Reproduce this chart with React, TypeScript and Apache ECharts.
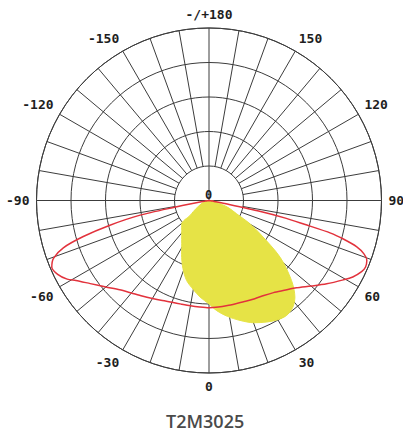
import React, { useEffect, useRef } from "react";
import * as echarts from "echarts";

// Grid: angle label ticks and radial grid lines
const labelAngles = [-180, -150, -120, -90, -60, -30, 0, 30, 60, 90, 120, 150, 180];
const radialLineAngles = [
  -170, -160, -150, -140, -130, -120, -110, -100, -80, -70, -60, -50, -40, -30, -20, -10,
  10, 20, 30, 40, 50, 60, 70, 80, 100, 110, 120, 130, 140, 150, 160, 170,
];
const axisThroughCenter = [-90, 0, 90, 180];
const ringStep = 100;
const ringMax = 500;
const innerRing = 100;
const centerLabel = "0";

// Red curve (C90-C270 plane)
const redAngles = [
  -90, -85, -80.5, -79.5, -79, -78, -76, -74, -72, -69.6, -67, -64, -61, -59, -55, -50, -45,
  -40, -35, -30, -25, -20, -15, -10, -5, 0, 5, 10, 15, 20, 25, 30, 35, 40, 45, 50, 54.7, 59.4,
  62, 65, 67, 69.3, 71, 72.6, 74, 75, 76, 77, 78, 79, 80, 85, 90,
];
const redValues = [
  0, 5, 15, 60, 95, 204, 296, 379, 444, 481, 495, 488, 470, 450, 420, 390, 366,
  350, 338, 328, 320, 314, 311, 310, 310, 311, 310, 309, 309, 311, 314, 318, 326, 340, 358, 386, 418, 452,
  472, 488, 493, 489, 475, 449, 405, 365, 285, 230, 150, 50, 15, 5, 0,
];

// Yellow area (C0-C180 plane)
const yellowAngles = [
  -90, -80, -70, -60, -55, -51.7, -49.5, -45, -42, -35, -30, -27, -21, -15.6, -10, -5.3, 0, 4, 9,
  14.5, 20, 25.4, 30, 34, 38, 41.6, 45.9, 51.4, 56.9, 60.5, 64.3, 70, 77.5, 84, 90,
];
const yellowValues = [
  0, 9, 20, 38, 55, 70, 104, 112, 118, 138, 158, 175, 211, 241, 262, 281, 300, 320, 340,
  359, 377, 390, 399, 402, 394, 375, 333, 264, 177, 135, 89, 58, 23, 8, 0,
];

const titleText = "T2M3025";

const GRID_COLOR = "#3c3c3c";

export default function App() {
  const ref = useRef<HTMLDivElement>(null);

  useEffect(() => {
    if (!ref.current) return;
    const chart = echarts.init(ref.current, null, { renderer: "svg" });

    const gridSeries: any[] = [];
    radialLineAngles.forEach((a) => {
      gridSeries.push({
        type: "line",
        coordinateSystem: "polar",
        data: [
          [innerRing, a],
          [ringMax, a],
        ],
        symbol: "none",
        silent: true,
        z: 1,
        lineStyle: { color: GRID_COLOR, width: 1 },
      });
    });
    axisThroughCenter.forEach((a) => {
      gridSeries.push({
        type: "line",
        coordinateSystem: "polar",
        data: [
          [0, a],
          [ringMax, a],
        ],
        symbol: "none",
        silent: true,
        z: 1,
        lineStyle: { color: GRID_COLOR, width: 1 },
      });
    });

    const option: any = {
      animation: false,
      backgroundColor: "#ffffff",
      title: {
        text: titleText,
        left: 166,
        top: 412,
        padding: 0,
        textStyle: {
          fontFamily: "Open Sans",
          fontWeight: 600,
          fontSize: 18,
          color: "#4a4a4a",
        },
      },
      graphic: [
        {
          type: "text",
          x: 208.5,
          y: 201,
          z: 10,
          style: {
            text: centerLabel,
            align: "center",
            verticalAlign: "bottom",
            fontFamily: "DejaVu Sans Mono",
            fontWeight: "bold",
            fontSize: 12,
            fill: "#1e1e1e",
          },
        },
      ],
      polar: {
        center: [209, 200.5],
        radius: 172.5,
      },
      angleAxis: {
        type: "value",
        min: -180,
        max: 180,
        interval: 30,
        startAngle: 90,
        clockwise: false,
        axisLine: { show: true, lineStyle: { color: GRID_COLOR, width: 1 } },
        axisTick: { show: false },
        splitLine: { show: false },
        axisLabel: {
          show: true,
          margin: 7,
          fontFamily: "DejaVu Sans Mono",
          fontWeight: "bold",
          fontSize: 13,
          color: "#1e1e1e",
          customValues: labelAngles,
          formatter: (v: number) => (v === 180 || v === -180 ? "-/+180" : String(v)),
        },
      },
      radiusAxis: {
        type: "value",
        min: 0,
        max: ringMax,
        interval: ringStep,
        axisLine: { show: false },
        axisTick: { show: false },
        axisLabel: { show: false },
        splitLine: { show: true, lineStyle: { color: GRID_COLOR, width: 1 } },
      },
      series: [
        ...gridSeries,
        {
          type: "line",
          coordinateSystem: "polar",
          data: yellowAngles.map((a, i) => [yellowValues[i], a]),
          symbol: "none",
          smooth: 0.3,
          silent: true,
          z: 3,
          lineStyle: { color: "#e6e346", width: 1 },
          areaStyle: { color: "#e6e346", opacity: 1 },
        },
        {
          type: "line",
          coordinateSystem: "polar",
          data: redAngles.map((a, i) => [redValues[i], a]),
          symbol: "none",
          smooth: 0.25,
          silent: true,
          z: 4,
          lineStyle: { color: "#e2323c", width: 1.5 },
        },
      ],
    };

    chart.setOption(option);
    return () => chart.dispose();
  }, []);

  return (
    <div
      ref={ref}
      style={{ position: "fixed", left: 0, top: 0, width: 403, height: 434 }}
    />
  );
}
